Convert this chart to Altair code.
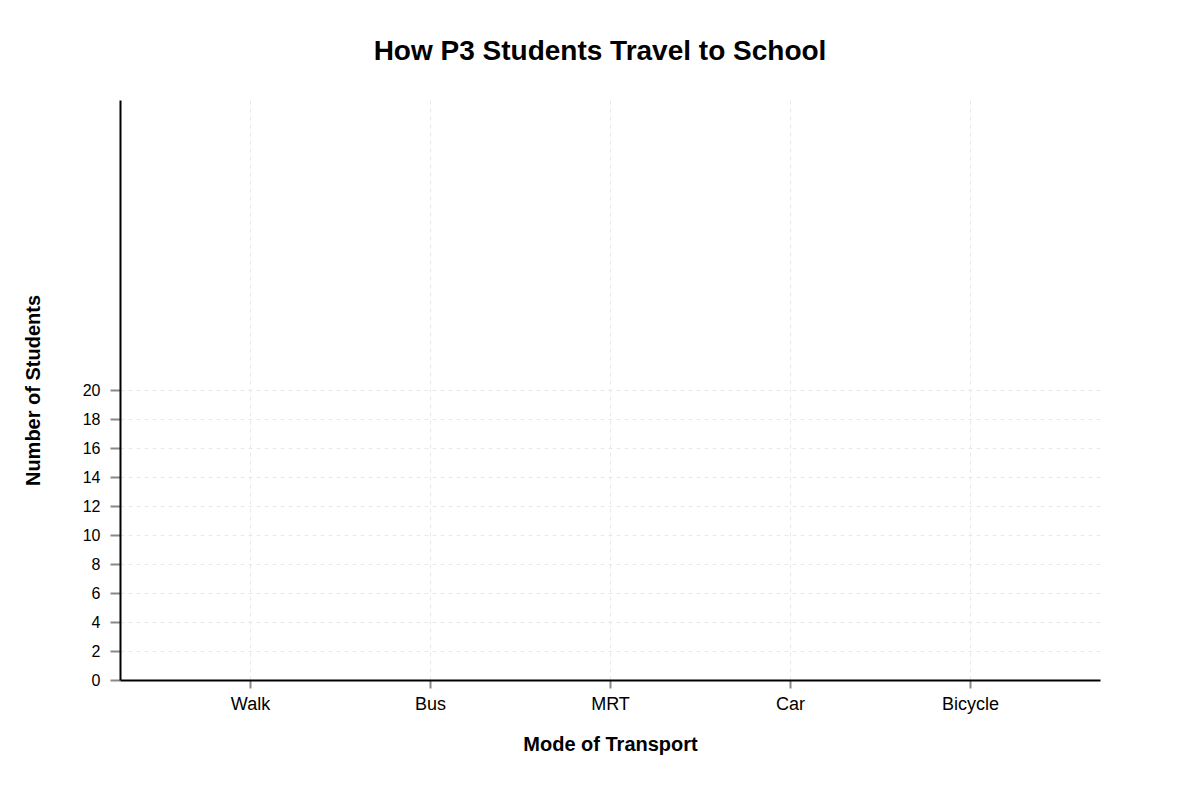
import altair as alt
import pandas as pd

modes = ["Walk", "Bus", "MRT", "Car", "Bicycle"]
students = [0, 0, 0, 0, 0]
y_ticks = [0, 2, 4, 6, 8, 10, 12, 14, 16, 18, 20]

df = pd.DataFrame({"Mode": modes, "Students": students})

FONT = "Liberation Sans"

chart = (
    alt.Chart(df)
    .mark_bar(color="#4c78a8")
    .encode(
        x=alt.X(
            "Mode:N",
            sort=modes,
            scale=alt.Scale(type="point", padding=0.7222),
            axis=alt.Axis(
                title="Mode of Transport",
                titleFont=FONT,
                titleFontSize=20,
                titleFontWeight="bold",
                titleColor="#000",
                titleX=490,
                titleY=64,
                titleBaseline="middle",
                labelFont=FONT,
                labelFontSize=18,
                labelColor="#000",
                labelAngle=0,
                labelPadding=7,
                tickSize=8,
                tickColor="#888",
                tickWidth=2,
                domainColor="#000",
                domainWidth=2,
                grid=True,
                gridColor="#e8e8e8",
                gridDash=[4, 4],
                gridWidth=1,
            ),
        ),
        y=alt.Y(
            "Students:Q",
            scale=alt.Scale(domain=[0, 40], nice=False),
            axis=alt.Axis(
                title="Number of Students",
                values=y_ticks,
                titleFont=FONT,
                titleFontSize=20,
                titleFontWeight="bold",
                titleColor="#000",
                titleAngle=-90,
                titleX=-87,
                titleY=290,
                titleBaseline="middle",
                labelFont=FONT,
                labelFontSize=16,
                labelColor="#000",
                labelPadding=10,
                tickSize=10,
                tickColor="#888",
                tickWidth=2,
                domainColor="#000",
                domainWidth=2,
                grid=True,
                gridColor="#e8e8e8",
                gridDash=[4, 4],
                gridWidth=1,
            ),
        ),
    )
    .properties(
        width=980,
        height=580,
        background="white",
        title=alt.TitleParams(
            "How P3 Students Travel to School",
            font=FONT,
            fontSize=28,
            fontWeight="bold",
            color="#000",
            anchor="middle",
            dx=-10,
            offset=34,
        ),
        autosize=alt.AutoSizeParams(type="none"),
        padding={"left": 112, "top": 92, "right": 84, "bottom": 112},
    )
    .configure_view(stroke="transparent", strokeWidth=0)
)

chart.save("out.html", embed_options={"renderer": "svg", "actions": False})
